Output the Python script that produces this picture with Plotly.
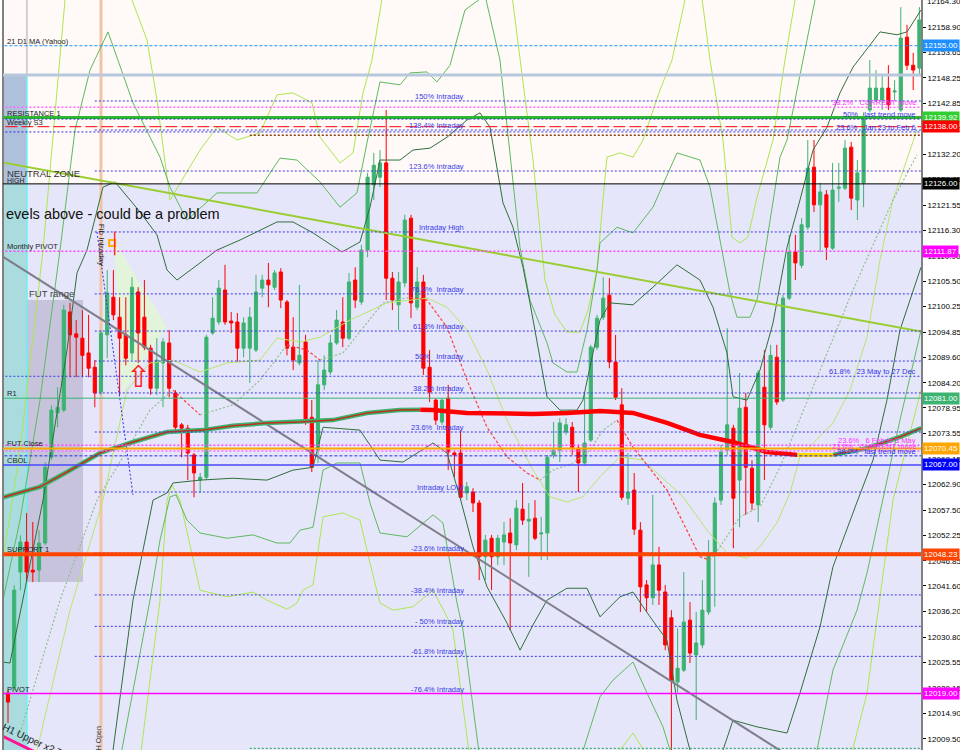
import plotly.graph_objects as go

FONT = "Liberation Sans, Arial, sans-serif"

# ---------------- candles (H1) ----------------
opens = [12019.1, 12020.3, 12044.5, 12050.8, 12044.9, 12044.9, 12050.6, 12068.6, 12077.9, 12078.5,
         12099.1, 12094.5, 12093.6, 12090.5, 12087.5, 12082.3, 12094.3, 12102.2, 12098.0, 12094.3,
         12090.5, 12103.3, 12098.0, 12091.5, 12083.1, 12088.4, 12092.6, 12082.1, 12075.4, 12074.7,
         12069.1, 12063.8, 12064.4, 12094.7, 12097.0, 12103.7, 12097.2, 12097.0, 12091.5, 12091.5,
         12091.1, 12104.1, 12105.8, 12104.3, 12107.5, 12101.2, 12091.7, 12088.4, 12092.8, 12077.0,
         12070.1, 12083.8, 12086.5, 12092.6, 12097.0, 12093.6, 12105.8, 12101.2, 12112.1, 12125.8,
         12127.4, 12130.4, 12106.2, 12100.6, 12105.2, 12118.8, 12100.1, 12105.4, 12087.5, 12080.6,
         12076.0, 12081.0, 12069.5, 12069.5, 12061.1, 12061.3, 12059.0, 12047.7, 12051.6, 12047.7,
         12050.8, 12052.7, 12050.2, 12057.7, 12055.2, 12055.8, 12052.5, 12052.7, 12069.1, 12070.1,
         12073.9, 12074.9, 12070.5, 12067.4, 12072.2, 12091.7, 12098.0, 12102.6, 12088.6, 12079.6,
         12060.0, 12061.7, 12053.3, 12041.8, 12039.1, 12046.0, 12040.3, 12034.9, 12021.4, 12023.9,
         12034.4, 12027.1, 12029.2, 12036.1, 12048.5, 12059.6, 12070.1, 12074.7, 12063.8, 12079.1,
         12066.3, 12058.6, 12083.3, 12074.9, 12089.6, 12080.6, 12102.0, 12111.7, 12108.9, 12116.9,
         12129.5, 12121.6, 12123.7, 12112.5, 12125.1, 12125.1, 12133.7, 12122.6, 12126.2, 12141.5,
         12143.6, 12143.6, 12146.1, 12145.3, 12141.5, 12156.8, 12150.9, 12150.3]
highs = [12019.7, 12041.7, 12052.2, 12056.9, 12055.0, 12053.3, 12067.6, 12079.5, 12083.3, 12100.6,
         12101.0, 12097.4, 12099.5, 12098.5, 12089.0, 12095.3, 12107.9, 12107.9, 12102.2, 12102.2,
         12106.4, 12104.3, 12105.8, 12092.2, 12093.6, 12093.6, 12095.3, 12082.7, 12075.8, 12075.4,
         12069.5, 12065.3, 12094.3, 12102.2, 12105.8, 12109.0, 12099.1, 12098.9, 12098.0, 12100.1,
         12106.9, 12106.9, 12109.4, 12107.9, 12108.3, 12101.6, 12098.0, 12104.8, 12094.3, 12080.6,
         12089.0, 12090.0, 12094.3, 12099.5, 12102.2, 12107.3, 12108.5, 12113.2, 12128.3, 12132.5,
         12133.1, 12141.5, 12107.5, 12107.5, 12119.5, 12119.5, 12108.5, 12106.9, 12091.1, 12081.0,
         12081.0, 12083.8, 12070.1, 12074.3, 12063.4, 12062.1, 12059.6, 12052.3, 12052.3, 12052.3,
         12055.0, 12055.8, 12059.6, 12063.2, 12059.0, 12059.6, 12056.1, 12069.1, 12076.0, 12076.8,
         12076.8, 12076.0, 12071.2, 12082.1, 12092.2, 12098.5, 12106.4, 12106.2, 12094.3, 12083.1,
         12069.5, 12065.3, 12055.0, 12042.8, 12060.7, 12049.8, 12041.8, 12036.5, 12032.7, 12044.5,
         12038.2, 12036.1, 12042.8, 12051.2, 12060.2, 12071.2, 12095.7, 12075.4, 12086.3, 12082.1,
         12068.0, 12086.9, 12091.1, 12092.2, 12092.2, 12102.7, 12115.3, 12115.3, 12118.8, 12135.2,
         12135.2, 12126.2, 12124.7, 12130.4, 12130.4, 12135.2, 12134.8, 12131.0, 12141.0, 12152.0,
         12149.9, 12148.9, 12150.9, 12147.8, 12163.1, 12159.4, 12153.5, 12163.1]
lows = [12012.8, 12019.7, 12040.7, 12042.4, 12042.4, 12042.4, 12050.2, 12068.0, 12074.9, 12078.1,
        12085.4, 12085.4, 12085.4, 12085.4, 12079.1, 12081.7, 12089.4, 12097.4, 12081.7, 12087.9,
        12089.0, 12088.4, 12091.1, 12081.7, 12081.7, 12079.1, 12081.2, 12074.3, 12068.6, 12063.8,
        12060.2, 12061.1, 12063.8, 12094.3, 12096.4, 12096.4, 12094.7, 12088.6, 12089.6, 12084.2,
        12090.7, 12102.2, 12100.1, 12103.7, 12099.9, 12090.0, 12086.9, 12087.9, 12075.4, 12065.5,
        12067.4, 12082.7, 12085.9, 12092.2, 12091.7, 12093.2, 12099.9, 12100.6, 12110.6, 12122.6,
        12125.3, 12101.6, 12099.5, 12095.3, 12104.3, 12097.8, 12099.5, 12085.9, 12080.2, 12075.4,
        12075.4, 12065.9, 12064.4, 12059.6, 12059.6, 12057.1, 12042.8, 12042.8, 12040.7, 12046.0,
        12046.0, 12032.3, 12049.1, 12054.4, 12043.5, 12051.2, 12047.0, 12047.0, 12068.4, 12067.6,
        12073.3, 12069.1, 12061.3, 12067.0, 12071.8, 12091.1, 12097.4, 12087.3, 12080.6, 12059.6,
        12058.6, 12052.3, 12036.1, 12036.1, 12037.6, 12037.6, 12028.1, 12005.0, 12019.3, 12023.5,
        12025.4, 12013.4, 12028.5, 12035.5, 12037.2, 12058.6, 12069.1, 12049.5, 12053.9, 12056.5,
        12057.5, 12055.0, 12063.8, 12074.3, 12079.6, 12080.2, 12101.6, 12105.8, 12108.3, 12116.3,
        12120.1, 12111.7, 12110.0, 12112.1, 12122.2, 12124.7, 12120.5, 12118.4, 12121.1, 12141.0,
        12143.2, 12141.5, 12141.5, 12143.6, 12141.1, 12149.9, 12145.7, 12148.9]
closes = [12017.2, 12040.7, 12050.8, 12044.5, 12044.5, 12050.6, 12066.5, 12078.5, 12079.1, 12099.5,
          12094.3, 12093.8, 12090.0, 12087.3, 12082.1, 12094.7, 12103.1, 12098.5, 12093.6, 12089.4,
          12104.3, 12094.7, 12091.7, 12083.1, 12089.0, 12092.8, 12083.1, 12074.9, 12074.7, 12069.5,
          12065.3, 12064.4, 12093.8, 12097.8, 12104.1, 12097.0, 12096.8, 12091.5, 12096.8, 12098.0,
          12103.3, 12105.8, 12104.8, 12107.3, 12101.6, 12091.5, 12089.0, 12090.0, 12076.4, 12066.5,
          12083.8, 12086.9, 12092.6, 12097.4, 12093.6, 12105.4, 12101.6, 12112.1, 12127.4, 12129.9,
          12130.4, 12106.2, 12101.6, 12105.4, 12118.4, 12101.0, 12105.4, 12087.3, 12082.3, 12076.4,
          12080.6, 12069.7, 12069.1, 12060.2, 12062.4, 12059.0, 12047.7, 12051.2, 12047.7, 12051.6,
          12052.3, 12050.6, 12057.9, 12055.4, 12055.6, 12051.6, 12052.7, 12068.6, 12070.1, 12075.8,
          12075.4, 12070.7, 12067.4, 12071.6, 12091.7, 12097.8, 12102.0, 12088.6, 12081.2, 12060.2,
          12061.3, 12053.5, 12041.4, 12039.1, 12046.0, 12040.7, 12029.2, 12021.8, 12024.3, 12034.0,
          12027.5, 12029.6, 12036.5, 12048.1, 12059.0, 12069.7, 12075.4, 12060.0, 12078.9, 12066.5,
          12059.0, 12086.3, 12075.4, 12090.0, 12080.2, 12102.0, 12111.7, 12109.4, 12117.4, 12129.3,
          12121.6, 12124.3, 12112.7, 12124.7, 12125.3, 12133.5, 12123.0, 12128.3, 12140.0, 12146.1,
          12146.1, 12146.1, 12142.6, 12145.5, 12156.6, 12150.9, 12149.9, 12160.4]
bar_index = list(range(len(opens)))

# ---------------- indicator lines (x = bar index, y = price) ----------------
dg_up_x = [-0.81, 0.32, 5.65, 9.52, 11.13, 12.74, 15.32, 17.26, 21.29, 24.03, 25.65, 27.26, 30.97, 33.71, 37.42,
           43.39, 45.97, 49.19, 53.87, 56.77, 58.39, 60.0, 63.23, 65.32, 68.06, 70.81, 74.03, 76.13, 77.74,
           79.84, 81.45, 83.06, 84.19, 86.94, 89.03, 91.77, 92.74, 94.35, 95.48, 97.1, 100.81, 104.03, 107.9,
           111.61, 113.71, 115.97, 116.94, 119.19, 121.29, 123.39, 125.65, 127.74, 129.84, 132.1, 134.19,
           136.29, 140.65, 143.39, 145.0, 147.26]
dg_up_y = [12025.6, 12025.4, 12059.6, 12091.1, 12107.3, 12112.1, 12125.3, 12126.4, 12120.1, 12115.3, 12107.9,
           12105.8, 12109.4, 12112.1, 12114.2, 12118.0, 12118.0, 12115.7, 12111.7, 12113.8, 12121.1, 12131.0,
           12131.0, 12133.1, 12133.5, 12135.8, 12139.4, 12140.9, 12137.9, 12122.0, 12116.9, 12108.5, 12101.0,
           12081.3, 12078.5, 12078.5, 12080.6, 12090.5, 12097.4, 12101.0, 12100.6, 12104.3, 12109.0, 12105.8,
           12100.1, 12090.5, 12081.3, 12080.6, 12086.9, 12096.8, 12112.7, 12122.6, 12133.1, 12137.9, 12145.1,
           12150.5, 12157.9, 12157.3, 12157.9, 12162.5]
dg_lo_x = [16.94, 20.16, 23.39, 25.65, 26.61, 30.97, 36.29, 41.77, 45.97, 49.19, 50.81, 56.77, 60.0, 63.71,
           68.55, 70.81, 72.9, 75.0, 77.26, 80.48, 82.6, 84.68, 86.94, 90.16, 93.39, 95.48, 98.71, 100.81,
           103.55, 106.29, 107.9, 110.0, 112.4, 115.32, 116.94, 120.81, 125.65, 127.74, 130.97, 133.06,
           136.94, 139.52, 141.77, 143.87, 147.26]
dg_lo_y = [12007.1, 12038.6, 12059.6, 12061.1, 12063.2, 12063.8, 12064.2, 12063.8, 12065.9, 12066.5, 12074.9,
           12074.3, 12068.0, 12067.6, 12071.6, 12069.5, 12060.2, 12049.8, 12041.4, 12033.8, 12028.1, 12033.4,
           12038.6, 12041.1, 12041.1, 12035.1, 12039.3, 12040.3, 12035.1, 12030.2, 12017.6, 12007.1, 11998.7,
           12007.1, 12013.4, 12012.0, 12010.7, 12019.1, 12033.0, 12045.6, 12059.2, 12068.0, 12080.6, 12095.3,
           12108.5]
mg_up_x = [-0.81, 1.94, 5.16, 8.39, 10.81, 13.23, 16.13, 20.16, 24.52, 26.13, 28.87, 33.71, 40.16, 43.87,
           46.61, 50.32, 53.55, 56.29, 57.9, 60.0, 63.23, 64.84, 67.58, 69.19, 71.29, 73.71, 76.94, 79.35,
           82.58, 84.19, 86.94, 87.9, 90.16, 91.77, 93.39, 95.0, 95.48, 98.23, 100.81, 104.03, 107.9, 111.61,
           113.23, 114.84, 116.45, 117.58, 119.68, 120.81, 122.42, 124.52, 125.65, 128.23, 130.16, 132.58]
mg_up_y = [12038.6, 12055.4, 12080.6, 12112.1, 12137.3, 12149.9, 12157.9, 12143.0, 12131.6, 12125.3, 12118.4,
           12124.1, 12124.1, 12131.4, 12131.0, 12126.4, 12121.1, 12124.1, 12134.6, 12147.4, 12146.8, 12149.3,
           12149.5, 12147.4, 12150.9, 12162.5, 12165.6, 12152.0, 12112.7, 12101.6, 12092.6, 12088.4, 12086.5,
           12086.5, 12095.3, 12107.9, 12113.6, 12116.9, 12115.7, 12121.1, 12132.5, 12131.0, 12125.3, 12114.2,
           12103.1, 12098.0, 12098.0, 12101.6, 12114.2, 12131.6, 12135.2, 12152.0, 12164.6, 12173.0]
mg_lo_x = [18.06, 22.9, 24.52, 26.13, 27.1, 28.87, 30.97, 35.32, 39.52, 43.39, 45.48, 47.1, 49.19, 50.81,
           53.06, 56.77, 58.39, 60.0, 64.35, 68.55, 70.16, 72.42, 73.39, 76.13, 92.26, 95.48, 97.58, 100.81,
           103.06, 105.65, 107.26, 130.16, 133.06, 136.94, 138.55, 141.13, 143.87, 147.26]
mg_lo_y = [12005.0, 12038.6, 12051.2, 12060.3, 12060.7, 12055.4, 12052.7, 12051.6, 12052.3, 12050.6, 12050.6,
           12053.3, 12053.9, 12065.9, 12067.4, 12067.4, 12059.0, 12052.7, 12051.9, 12056.5, 12054.8, 12038.0,
           12032.3, 12005.0, 12005.0, 12018.3, 12021.8, 12025.6, 12019.1, 12012.0, 12005.0, 12005.0, 12023.9,
           12036.5, 12044.3, 12059.6, 12076.4, 12095.3]
yg_up_x = [-0.81, 1.94, 5.65, 9.19, 11.61, 17.26, 20.0, 22.42, 24.03, 26.13, 30.97, 33.71, 36.94, 40.65,
           43.39, 45.97, 49.03, 50.32, 53.55, 55.65, 57.26, 58.71, 60.81, 71.29, 80.97, 82.58, 84.68, 86.61,
           88.23, 90.16, 92.26, 93.55, 95.0, 95.97, 96.61, 98.71, 100.81, 102.42, 105.16, 107.1, 109.19,
           111.13, 113.23, 115.32, 116.77, 118.06, 119.35, 120.81, 122.42, 123.39, 125.32, 126.94, 129.35]
yg_up_y = [12047.0, 12070.1, 12112.1, 12164.6, 12179.3, 12179.3, 12164.6, 12156.2, 12143.6, 12122.6, 12133.1,
           12137.9, 12135.2, 12136.7, 12144.7, 12145.1, 12143.0, 12135.8, 12130.4, 12132.5, 12145.1, 12152.0,
           12168.8, 12181.4, 12168.8, 12152.0, 12131.0, 12105.8, 12098.5, 12094.9, 12094.9, 12099.5, 12107.9,
           12122.6, 12131.6, 12132.5, 12131.6, 12135.2, 12145.7, 12152.0, 12164.6, 12173.0, 12152.0, 12135.2,
           12114.8, 12113.6, 12114.8, 12123.2, 12131.0, 12135.2, 12152.0, 12164.6, 12177.2]
yg_lo_x = [21.29, 24.52, 25.65, 26.45, 27.74, 30.97, 35.32, 39.52, 41.77, 45.0, 46.61, 47.58, 49.19, 50.81,
           54.03, 56.77, 58.39, 60.0, 62.1, 65.32, 68.55, 70.81, 71.77, 74.52, 97.1, 99.0, 100.81, 103.55,
           135.81, 138.55, 140.65, 142.74, 147.26]
yg_lo_y = [12005.0, 12038.6, 12059.6, 12062.8, 12059.6, 12040.7, 12039.3, 12040.3, 12038.6, 12036.7, 12038.0,
           12040.7, 12041.8, 12056.1, 12056.9, 12055.4, 12046.4, 12038.0, 12036.5, 12037.2, 12040.7, 12035.1,
           12032.3, 12005.0, 12005.0, 12007.6, 12010.7, 12005.0, 12005.0, 12019.1, 12039.3, 12059.6, 12082.7]
mid_x = [4.68, 10.0, 15.32, 19.19, 22.9, 26.61, 30.97, 35.32, 40.65, 43.39, 47.1, 50.32, 55.16, 61.13, 67.58,
         70.81, 74.03, 77.26, 80.48, 84.68, 87.42, 90.16, 92.74, 95.48, 98.71, 102.42, 108.87, 112.74, 115.97,
         119.19, 121.29, 123.99, 126.13, 127.74, 133.06, 135.81, 138.55, 140.65, 142.74, 146.61]
mid_y = [12007.1, 12036.5, 12059.6, 12082.7, 12088.4, 12089.0, 12086.5, 12088.4, 12089.0, 12093.6, 12092.8,
         12093.8, 12097.4, 12101.0, 12102.0, 12100.1, 12095.3, 12086.9, 12076.4, 12065.9, 12060.3, 12059.2,
         12060.3, 12064.5, 12068.7, 12068.0, 12060.3, 12053.3, 12048.5, 12047.4, 12049.8, 12054.8, 12061.1,
         12068.7, 12075.8, 12082.7, 12093.8, 12110.0, 12122.6, 12137.3]
fast_ma_x = [1.94, 8.39, 14.35, 18.55, 22.9, 26.61, 30.97, 36.29, 40.65, 45.0, 48.23, 50.32, 54.03, 57.9, 60.48,
             64.84, 67.58, 70.81, 74.03, 77.26, 80.48, 83.71, 85.81, 87.9, 91.13, 93.87, 95.97, 98.23, 100.81,
             106.29, 108.87, 111.61, 113.23, 114.84, 118.06, 121.29, 124.52, 129.84, 136.29, 142.74, 146.61]
fast_ma_y = [12010.7, 12038.6, 12059.6, 12068.7, 12078.5, 12082.7, 12077.5, 12079.6, 12084.8, 12092.2, 12091.1,
             12089.0, 12090.5, 12096.8, 12101.0, 12102.2, 12101.6, 12095.9, 12084.8, 12074.9, 12068.7, 12065.3,
             12063.8, 12065.9, 12067.4, 12070.1, 12074.3, 12076.4, 12070.7, 12061.7, 12054.8, 12047.7, 12047.0,
             12049.8, 12056.1, 12058.2, 12066.5, 12083.3, 12103.7, 12122.6, 12132.1]
ma_rise1_x = [-1.29, 5.16, 9.52, 14.84, 20.16, 25.65, 31.45, 36.29, 41.77, 47.1, 52.4, 57.9, 63.2, 66.5]
ma_rise1_y = [12060.0, 12062.4, 12065.5, 12069.5, 12071.8, 12073.9, 12074.3, 12075.2, 12075.8, 12076.0, 12076.4,
              12077.9, 12078.5, 12078.6]
ma_fall_x = [66.5, 68.5, 74.0, 79.4, 84.7, 90.2, 95.5, 100.8, 106.3, 111.6, 116.9, 122.4, 127.3]
ma_fall_y = [12078.6, 12078.5, 12077.9, 12077.7, 12077.7, 12077.9, 12078.3, 12077.9, 12075.8, 12073.3, 12071.8,
             12069.7, 12069.1]
ma_flat_x = [127.3, 133.1]
ma_flat_y = [12069.1, 12069.1]
ma_rise2_x = [133.1, 138.5, 143.9, 147.3]
ma_rise2_y = [12069.1, 12070.5, 12072.9, 12074.7]

# trend lines
trend_green_x = [-1.29, 147.26]
trend_green_y = [12130.6, 12095.0]
trend_gray_x = [-1.29, 131.0]
trend_gray_y = [12111.1, 12001.7]
trend_pink_x = [-1.3, 5.0]
trend_pink_y = [12010.3, 12006.3]
fib_diag_x = [14.35, 20.16]
fib_diag_y = [12115.9, 12060.7]

# ---------------- horizontal levels ----------------
neutral_high = 12126.00
zone_top = 12148.85
fib_start = 14
fib_levels = [12143.4, 12137.3, 12128.7, 12115.9, 12102.9, 12095.1, 12088.8, 12082.1, 12073.9, 12061.3,
              12048.5, 12039.7, 12033.1, 12026.8, 12019.0]
fib_labels = ["150% Intraday", "138.4% Intraday", "123.6% Intraday", "Intraday High", "76.4%  Intraday",
              "61.8% Intraday", "50%   Intraday", "38.2% Intraday", "23.6%  Intraday", "Intraday LOW",
              "-23.6% Intraday", "-38.4% Intraday", "- 50% Intraday", "-61.8% Intraday", "-76.4% Intraday"]

# (price, colour, width, dash, start bar)
level_price = [12155.00, 12142.1, 12139.92, 12139.6, 12138.00, 12136.9, 12136.2, 12111.87, 12085.6, 12081.00,
               12071.1, 12070.45, 12069.9, 12068.9, 12067.00, 12048.23, 12019.00, 12007.5]
level_color = ["#1E90FF", "#FF66FF", "#2DB82D", "#2B2BE0", "#FF0000", "#2B2BE0", "#8B3A10", "#FF44FF",
               "#3A3AE0", "#3CB371", "#FF44FF", "#FFA500", "#FF66FF", "#2B2BE0", "#4848FF", "#FF4500",
               "#FF00FF", "#3CB371"]
level_width = [1, 1.5, 3, 1, 1, 1, 1.5, 1.5, 1, 1, 1.5, 2, 1.5, 1, 1.5, 4, 1.5, 1.2]
level_dash = ["3px,2px", "2px,2px", "solid", "2px,2px", "12px,4px", "2px,2px", "2px,2px", "2px,2px",
              "2px,2px", "solid", "2px,2px", "solid", "2px,2px", "3px,2px", "solid", "solid", "solid", "2px,2px"]
level_start = [-3, -3, -3, -3, -3, -3, 39, -3, -3, -3, -3, -3, -3, -3, -3, -3, -3, 39]

left_label_text = ["21 D1 MA (Yahoo)", "RESISTANCE 1", "Weekly S3", "HIGH", "Monthly PIVOT", "R1",
                   "FUT Close", "CBOL", "SUPPORT 1", "PIVOT"]
left_label_price = [12155.00, 12139.92, 12138.00, 12126.00, 12111.87, 12081.00, 12070.45, 12067.00,
                    12048.23, 12019.00]

right_label_text = ["38.2%\u00a0\u00a0 CURRENT move", "50%\u00a0\u00a0 last trend move",
                    "23.6%\u00a0\u00a0 Jan 23 to Feb 6", "61.8%\u00a0\u00a0 23 May to 27 Dec",
                    "23.6%\u00a0\u00a0 6 Feb to 3 May", "23.6%\u00a0\u00a0 CURRENT move",
                    "38.2%\u00a0\u00a0 last trend move"]
right_label_price = [12142.1, 12139.6, 12136.9, 12085.6, 12071.1, 12069.9, 12068.9]
right_label_color = ["#FF33FF", "#3030E8", "#3030E8", "#3030E8", "#FF33FF", "#FF33FF", "#3030E8"]

box_text = ["12155.00", "12139.92", "12138.00", "12126.00", "12111.87", "12081.00", "12070.45", "12067.00",
            "12048.23", "12019.00"]
box_price = [12155.00, 12139.92, 12138.00, 12126.00, 12111.87, 12081.00, 12070.45, 12067.00, 12048.23, 12019.00]
box_color = ["#1E90FF", "#32CD32", "#FF0000", "#000000", "#FF00FF", "#3CB371", "#FFA500", "#0000FF",
             "#FF4500", "#FF00FF"]

tick_vals = [12158.90, 12153.65, 12148.25, 12142.85, 12137.50, 12132.20, 12126.95, 12121.55,
             12116.30, 12110.90, 12105.50, 12100.25, 12094.85, 12089.60, 12084.20, 12078.95, 12073.55,
             12068.15, 12062.90, 12057.50, 12052.25, 12046.85, 12041.60, 12036.20, 12030.80, 12025.55,
             12020.15, 12014.90, 12009.50]
top_tick = 12164.30

fut_range = dict(x0=3.05, x1=12.1, y0=12042.4, y1=12101.6)
h_open_bar = 15

X_RANGE = [-0.806, 147.26]
Y_RANGE = [12007.14, 12164.6]

# ---------------- figure ----------------
fig = go.Figure()

def line(xs, ys, color, width=1, dash="solid"):
    fig.add_trace(go.Scatter(x=xs, y=ys, mode="lines", line=dict(color=color, width=width, dash=dash),
                             hoverinfo="skip", showlegend=False))

# bands
for xs, ys, c in [(yg_up_x, yg_up_y, "#ADE64E"), (yg_lo_x, yg_lo_y, "#ADE64E"),
                  (mg_up_x, mg_up_y, "#5DBA5D"), (mg_lo_x, mg_lo_y, "#5DBA5D"),
                  (dg_up_x, dg_up_y, "#2F6F3A"), (dg_lo_x, dg_lo_y, "#2F6F3A"),
                  (mid_x, mid_y, "#B9E66A")]:
    line(xs, ys, c, 1)

# fast MA coloured by direction
run_x, run_y, run_dir = [fast_ma_x[0]], [fast_ma_y[0]], None
segs = []
for i in range(1, len(fast_ma_x)):
    d = 1 if fast_ma_y[i] >= fast_ma_y[i - 1] else -1
    if run_dir is None or d == run_dir:
        run_x.append(fast_ma_x[i]); run_y.append(fast_ma_y[i]); run_dir = d
    else:
        segs.append((run_dir, run_x, run_y))
        run_x, run_y, run_dir = [fast_ma_x[i - 1], fast_ma_x[i]], [fast_ma_y[i - 1], fast_ma_y[i]], d
segs.append((run_dir, run_x, run_y))
for d, xs, ys in segs:
    if d > 0:
        line(xs, ys, "#8FBF8F", 1.2, "2px,2px")
    else:
        line(xs, ys, "#FF4040", 1.2, "3px,2px")

# candles
fig.add_trace(go.Candlestick(
    x=bar_index, open=opens, high=highs, low=lows, close=closes,
    increasing=dict(line=dict(color="#3CB371", width=1), fillcolor="#3CB371"),
    decreasing=dict(line=dict(color="#FF0000", width=1), fillcolor="#FF0000"),
    whiskerwidth=0, hoverinfo="skip", showlegend=False))

# trend lines
line(trend_green_x, trend_green_y, "#9ACD32", 2)
line(trend_gray_x, trend_gray_y, "#7F7F8C", 2)
line(trend_pink_x, trend_pink_y, "#FF1493", 3)
line(fib_diag_x, fib_diag_y, "#3030E0", 1, "2px,2px")

# thick MA
line(ma_rise1_x, ma_rise1_y, "#3CB371", 4.5)
line(ma_rise1_x, ma_rise1_y, "#C0301A", 1.5)
line(ma_fall_x, ma_fall_y, "#FF0000", 4.5)
line(ma_flat_x, ma_flat_y, "#FFD700", 4)
line(ma_rise2_x, ma_rise2_y, "#3CB371", 4.5)
line(ma_rise2_x, ma_rise2_y, "#C0301A", 1.5)

# fib anchor marker
fig.add_trace(go.Scatter(x=[16.8], y=[12113.6], mode="markers",
                         marker=dict(symbol="square-open", color="#FFB000", size=6, line=dict(width=2)),
                         hoverinfo="skip", showlegend=False))

shapes = []
# backgrounds
shapes.append(dict(type="rect", xref="paper", yref="y", x0=0, x1=1, y0=11990, y1=neutral_high,
                   fillcolor="#E6E6FA", line_width=0, layer="below"))
shapes.append(dict(type="rect", xref="x", yref="y", x0=-3, x1=3.05, y0=neutral_high, y1=zone_top,
                   fillcolor="#AEC0DA", line_width=0, layer="below"))
shapes.append(dict(type="rect", xref="x", yref="y", x0=-3, x1=3.05, y0=11990, y1=neutral_high,
                   fillcolor="#AADBDF", line_width=0, layer="below"))
shapes.append(dict(type="rect", xref="x", yref="y", x0=fut_range["x0"], x1=fut_range["x1"],
                   y0=fut_range["y0"], y1=fut_range["y1"], fillcolor="#C7C3DC", line_width=0, layer="below"))
shapes.append(dict(type="path", xref="x", yref="y",
                   path="M 17.1 12114.2 L 25.6 12096.0 L 18.4 12082.1 Z",
                   fillcolor="#E2F4DA", line_width=0, layer="below"))
shapes.append(dict(type="line", xref="x", yref="paper", x0=h_open_bar, x1=h_open_bar, y0=0, y1=1,
                   line=dict(color="#F2C4A6", width=3), layer="below"))
shapes.append(dict(type="line", xref="x", yref="y", x0=3.05, x1=3.05, y0=11990, y1=zone_top,
                   line=dict(color="#66F2F2", width=1.5), layer="below"))
shapes.append(dict(type="line", xref="x", yref="y", x0=3.05, x1=3.05, y0=zone_top, y1=12170,
                   line=dict(color="#D0D0D0", width=2), layer="below"))
shapes.append(dict(type="line", xref="paper", yref="paper", x0=0, x1=0, y0=0, y1=1,
                   line=dict(color="#808080", width=2)))
shapes.append(dict(type="line", xref="x", yref="y", x0=-3, x1=200, y0=zone_top, y1=zone_top,
                   line=dict(color="#B8C8DC", width=3)))
shapes.append(dict(type="line", xref="x", yref="y", x0=-3, x1=200, y0=neutral_high, y1=neutral_high,
                   line=dict(color="#000000", width=1)))
for p in fib_levels:
    shapes.append(dict(type="line", xref="x", yref="y", x0=fib_start, x1=200, y0=p, y1=p,
                       line=dict(color="#3636E6", width=1, dash="2px,2px")))
for p, c, w, d, s in zip(level_price, level_color, level_width, level_dash, level_start):
    shapes.append(dict(type="line", xref="x", yref="y", x0=s, x1=200, y0=p, y1=p,
                       line=dict(color=c, width=w, dash=d)))
shapes.append(dict(type="line", xref="x", yref="y", x0=17.2, x1=17.2, y0=12111.0, y1=12116.0,
                   line=dict(color="#FF3030", width=1.5)))

annotations = []
for t, p in zip(left_label_text, left_label_price):
    annotations.append(dict(xref="paper", yref="y", x=0, y=p, xanchor="left", yanchor="bottom",
                            xshift=2, yshift=-2, text=t, showarrow=False,
                            font=dict(family=FONT, size=7 if t == "HIGH" else 7.5, color="#222222")))
annotations.append(dict(xref="paper", yref="y", x=0, y=neutral_high, xanchor="left", yanchor="bottom",
                        xshift=2, yshift=3, text="NEUTRAL ZONE", showarrow=False,
                        font=dict(family=FONT, size=9.5, color="#333333")))
annotations.append(dict(xref="paper", yref="y", x=0, y=12119.7, xanchor="left", yanchor="middle",
                        xshift=1, text="evels above - could be a problem", showarrow=False,
                        font=dict(family=FONT, size=14.5, color="#111111")))
annotations.append(dict(xref="x", yref="y", x=fut_range["x0"], y=fut_range["y1"], xanchor="left",
                        yanchor="bottom", yshift=-1, text="FUT range", showarrow=False,
                        font=dict(family=FONT, size=9.5, color="#404040")))
for t, p in zip(fib_labels, fib_levels):
    annotations.append(dict(xref="x", yref="y", x=73.9, y=p, xanchor="right", yanchor="bottom",
                            yshift=-2, text=t.replace("  ", "\u00a0\u00a0"), showarrow=False,
                            font=dict(family=FONT, size=7.5, color="#3A3AE8")))
for t, p, c in zip(right_label_text, right_label_price, right_label_color):
    annotations.append(dict(xref="paper", yref="y", x=1, y=p, xanchor="right", yanchor="bottom",
                            xshift=-3, yshift=-2, text=t, showarrow=False,
                            font=dict(family=FONT, size=7.5, color=c)))
annotations.append(dict(xref="paper", yref="y", x=1, y=top_tick, xanchor="left", yanchor="middle",
                        xshift=4, text=f"{top_tick:.2f}", showarrow=False,
                        font=dict(family=FONT, size=8, color="#000000")))
for t, p, c in zip(box_text, box_price, box_color):
    annotations.append(dict(xref="paper", yref="y", x=1, y=p, xanchor="left", yanchor="middle",
                            xshift=1, text=t, showarrow=False, bgcolor=c, borderpad=1,
                            font=dict(family=FONT, size=8, color="#FFFFFF")))
annotations.append(dict(xref="x", yref="y", x=15.0, y=12113.2, text="Fib Intraday", textangle=90,
                        showarrow=False, font=dict(family=FONT, size=8, color="#222222")))
annotations.append(dict(xref="x", yref="y", x=14.6, y=12009.5, text="H Open", textangle=-90,
                        showarrow=False, font=dict(family=FONT, size=7, color="#333333")))
annotations.append(dict(xref="x", yref="y", x=4.5, y=12009.0, text="H1 Upper x2 TP", textangle=25,
                        showarrow=False, font=dict(family=FONT, size=10, color="#222222")))
annotations.append(dict(xref="x", yref="y", x=21.1, y=12085.6, text="\u21e7", showarrow=False,
                        font=dict(family="DejaVu Sans", size=30, color="#FF2020")))

fig.update_layout(
    width=960, height=750,
    margin=dict(l=3, r=39, t=0, b=0, pad=0, autoexpand=False),
    paper_bgcolor="#FFFFFF", plot_bgcolor="#FFFAF8",
    showlegend=False, boxgap=0.28,
    shapes=shapes, annotations=annotations,
    xaxis=dict(range=X_RANGE, visible=False, showgrid=False, zeroline=False, rangeslider=dict(visible=False)),
    yaxis=dict(range=Y_RANGE, side="right", tickmode="array", tickvals=tick_vals,
               ticktext=[f"{v:.2f}" for v in tick_vals], ticks="outside", ticklen=3, tickcolor="#000000",
               showline=True, linecolor="#808080", linewidth=2, showgrid=False, zeroline=False,
               tickfont=dict(family=FONT, size=8, color="#000000")),
)

fig.write_html("out.html", config={"displayModeBar": False},
               post_script="document.body.style.margin='0';document.body.style.overflow='hidden';")
